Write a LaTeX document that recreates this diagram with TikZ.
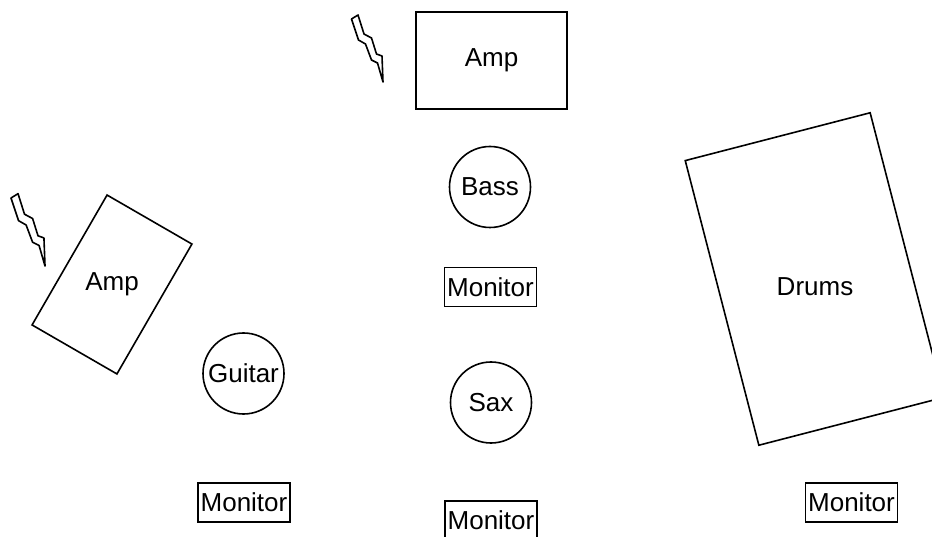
\documentclass[tikz,border=0pt]{standalone}
\usepackage{fontspec}
\setmainfont{Liberation Sans}
\begin{document}
\begin{tikzpicture}[x=1pt,y=-1pt,line width=1.6pt,
  every node/.style={font=\fontsize{26}{31}\selectfont},
  player/.style={draw,circle,minimum size=81pt,inner sep=0pt},
  monitor/.style={draw,rectangle,minimum width=92pt,minimum height=39pt,inner sep=0pt},
  gear/.style={draw,rectangle,inner sep=0pt},
  tag/.style={inner sep=0pt},
  boltpic/.pic={\draw[line width=1.6pt,line join=round]
     (0,0) -- (6.5,-4) -- (12.5,15) -- (20,19) -- (25,35) -- (30.5,37)
     -- (31.5,63) -- (26,44) -- (20,41) -- (14,25) -- (7,21) -- cycle;}]
\useasboundingbox (0,0) rectangle (932,537);
% amps and drums
\node[gear,minimum width=151pt,minimum height=97pt] (ampTop) at (491.5,60.5) {Amp};
\node[gear,minimum width=98pt,minimum height=150pt,rotate=-30] (ampLeftBox) at (112,284.5) {};
\node[tag] (ampLeft) at (112,284) {Amp};
\node[gear,minimum width=191pt,minimum height=294pt,rotate=14.5] (drumsBox) at (814.5,279) {};
\node[tag] (drums) at (815,287) {Drums};
% players
\node[player] (bass) at (490,187) {Bass};
\node[player] (guitar) at (243.5,373.5) {Guitar};
\node[player] (sax) at (491,402.5) {Sax};
% monitors
\node[monitor] (monBass) at (490.5,287) {Monitor};
\node[monitor] (monGuitar) at (244,502.5) {Monitor};
\node[monitor] (monSax) at (491,520.5) {Monitor};
\node[monitor] (monDrums) at (851.5,502.5) {Monitor};
% lightning bolts
\pic at (351.5,19) {boltpic};
\pic[scale=1.08] at (11,198) {boltpic};
\end{tikzpicture}
\end{document}
